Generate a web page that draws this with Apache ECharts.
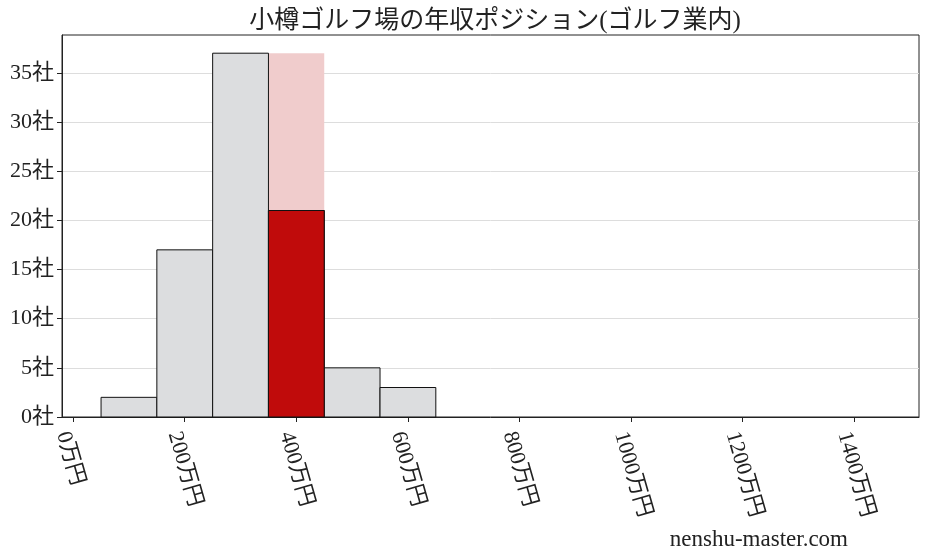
<!DOCTYPE html>
<html>
<head>
<meta charset="utf-8">
<script src="https://cdn.jsdelivr.net/npm/echarts@6/dist/echarts.min.js"></script>
<style>
html,body{margin:0;padding:0;background:#fff;}
#chart{width:928px;height:557px;}
</style>
</head>
<body>
<div id="chart"></div>
<script>
const titleText = '小樽ゴルフ場の年収ポジション(ゴルフ業内)';
const binStarts = [50, 150, 250, 350, 450, 550];
const binEnds = [150, 250, 350, 450, 550, 650];
const counts = [2, 17, 37, 21, 5, 3];
const highlightIndex = 3;
const xTickValues = [0, 200, 400, 600, 800, 1000, 1200, 1400];
const yTickValues = [0, 5, 10, 15, 20, 25, 30, 35];
const xUnit = '万円';
const yUnit = '社';
const watermark = 'nenshu-master.com';

const FONT = "'Liberation Serif', 'Noto Sans CJK JP', serif";

const grayData = binStarts.map((s, i) => [s, binEnds[i], counts[i]]);
const maxCount = Math.max(...counts);
const bgData = [[binStarts[highlightIndex], binEnds[highlightIndex], maxCount]];
const redData = [[binStarts[highlightIndex], binEnds[highlightIndex], counts[highlightIndex]]];

function makeRender(fill, stroke, lw) {
  return function (params, api) {
    const p0 = api.coord([api.value(0), api.value(2)]);
    const p1 = api.coord([api.value(1), 0]);
    return {
      type: 'rect',
      shape: { x: p0[0], y: p0[1], width: p1[0] - p0[0], height: p1[1] - p0[1] },
      style: { fill: fill, stroke: stroke, lineWidth: lw }
    };
  };
}

const chart = echarts.init(document.getElementById('chart'), null, { renderer: 'canvas' });
chart.setOption({
  animation: false,
  backgroundColor: '#ffffff',
  title: {
    text: titleText,
    left: 490, top: 4, textAlign: 'center',
    textStyle: { fontFamily: FONT, fontSize: 25, fontWeight: 'normal', color: '#222' }
  },
  graphic: [{
    type: 'text', right: 80, bottom: 6,
    style: { text: watermark, font: "23px 'Liberation Serif', serif", fill: '#222' }
  }],
  grid: { left: 62, right: 9, top: 35, bottom: 140, show: true, borderColor: '#222', borderWidth: 1, backgroundColor: 'transparent' },
  xAxis: {
    type: 'value', min: -20, max: 1516,
    axisLine: { show: true, onZero: false, lineStyle: { color: '#222' } },
    axisTick: { show: true, length: 5, customValues: xTickValues, lineStyle: { color: '#222' } },
    splitLine: { show: false },
    axisLabel: {
      rotate: -74, margin: 12, verticalAlign: 'top', fontFamily: FONT, fontSize: 22, color: '#222',
      customValues: xTickValues,
      formatter: v => v + xUnit
    }
  },
  yAxis: {
    type: 'value', min: 0, max: 38.85,
    axisLine: { show: true, onZero: false, lineStyle: { color: '#222' } },
    axisTick: { show: true, length: 5, customValues: yTickValues, lineStyle: { color: '#222' } },
    splitLine: { show: true, lineStyle: { color: '#dddddd', width: 1 } },
    axisLabel: {
      margin: 8, fontFamily: FONT, fontSize: 22, color: '#222',
      customValues: yTickValues,
      formatter: v => v + yUnit
    }
  },
  series: [
    { type: 'custom', renderItem: makeRender('#f0cccc', null, 0), data: bgData, encode: { x: [0, 1], y: 2 }, z: 1 },
    { type: 'custom', renderItem: makeRender('#dcdddf', '#111', 1), data: grayData, encode: { x: [0, 1], y: 2 }, z: 2 },
    { type: 'custom', renderItem: makeRender('#c00b0b', '#111', 1), data: redData, encode: { x: [0, 1], y: 2 }, z: 3 }
  ]
});
</script>
</body>
</html>
